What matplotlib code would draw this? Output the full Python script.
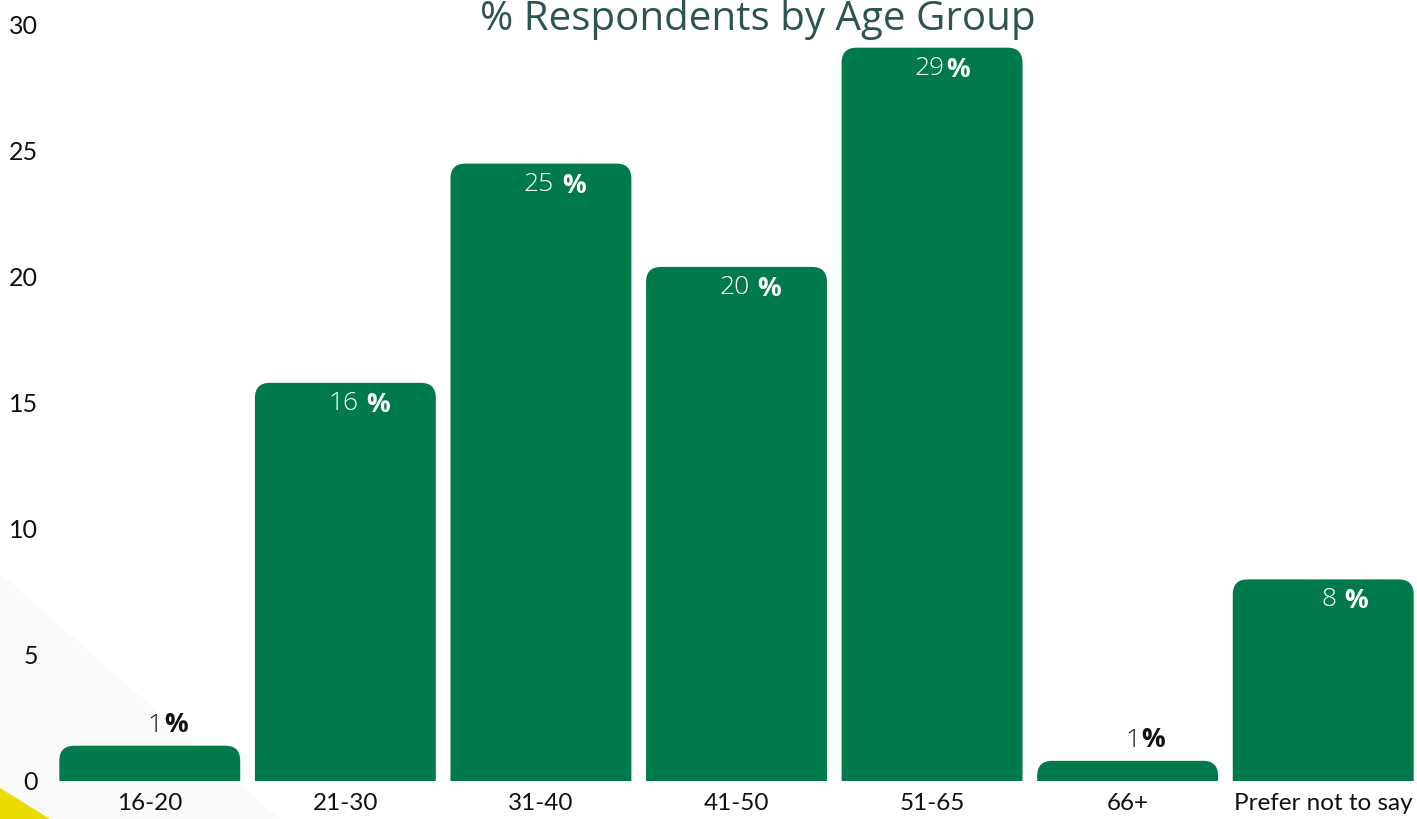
import matplotlib
matplotlib.use("Agg")
import matplotlib.pyplot as plt
from matplotlib.patches import FancyBboxPatch, Polygon

age_groups = ["16-20", "21-30", "31-40", "41-50", "51-65", "66+", "Prefer not to say"]
percent = [1.4, 15.8, 24.5, 20.4, 29.1, 0.8, 8.0]
value_text = ["1", "16", "25", "20", "29", "1", "8"]
has_space = [False, True, True, True, False, False, True]
y_ticks = [0, 5, 10, 15, 20, 25, 30]

GREEN = "#007A4A"
TITLE_COLOR = "#2B5452"
FONT = "Open Sans"
TICK_FONT = "Lato"

W, H, DPI = 1417, 819, 100
fig = plt.figure(figsize=(W / DPI, H / DPI), dpi=DPI, facecolor="white")

# decorative background shapes (figure pixel coords)
bg = fig.add_axes([0, 0, 1, 1], zorder=-1)
bg.set_xlim(0, W)
bg.set_ylim(H, 0)
bg.axis("off")
bg.add_patch(Polygon([(0, 573), (280, 819), (0, 819)], closed=True,
                     facecolor="#FAFAFA", edgecolor="none"))
bg.add_patch(Polygon([(0, 788), (50, 819), (0, 819)], closed=True,
                     facecolor="#EADB00", edgecolor="none"))

ax = fig.add_axes([52 / W, 38 / H, 1369 / W, 756 / H])
ax.patch.set_alpha(0)
x = list(range(len(age_groups)))
bars = ax.bar(x, percent, width=0.925, color="none")
ax.set_xlim(-0.5, len(age_groups) - 0.5)
ax.set_ylim(0, 30)

# rounded-top bars: rounding size in x units, aspect fixes y distortion
px_x = 1369 / len(age_groups)
px_y = 756 / 30
r = 15 / px_x
aspect = px_x / px_y
for b in bars:
    extra = r * aspect
    p = FancyBboxPatch((b.get_x(), -extra), b.get_width(), b.get_height() + extra,
                       boxstyle=f"round,pad=0,rounding_size={r}",
                       mutation_aspect=aspect, facecolor=GREEN, edgecolor="none")
    ax.add_patch(p)
    b.remove()

for xi, v, t, sp in zip(x, percent, value_text, has_space):
    inside = v > 3
    col = "white" if inside else "#111111"
    gap = 7 if sp else 0
    if inside:
        dy, va = -8, "top"
    else:
        dy, va = 8, "bottom"
    ax.annotate(t, (xi, v), xytext=(13, dy), textcoords="offset pixels",
                ha="right", va=va, color=col, fontsize=19, family=FONT,
                fontweight="light")
    ax.annotate("%", (xi, v), xytext=(14 + gap, dy), textcoords="offset pixels",
                ha="left", va=va, color=col, fontsize=19, family=FONT,
                fontweight="bold")

ax.set_xticks(x)
ax.set_xticklabels(age_groups, fontsize=17.5, family=TICK_FONT, color="#111111")
ax.set_yticks(y_ticks)
ax.set_yticklabels([str(t) for t in y_ticks], fontsize=18, family=TICK_FONT, color="#111111")
ax.tick_params(length=0, pad=9)
ax.tick_params(axis="y", pad=10)
for s in ax.spines.values():
    s.set_visible(False)

fig.text(758 / W, 1 - 30 / H, "% Respondents by Age Group", ha="center",
         va="baseline", fontsize=29, family=FONT, color=TITLE_COLOR)

fig.savefig("out.png", dpi=DPI, facecolor="white")
